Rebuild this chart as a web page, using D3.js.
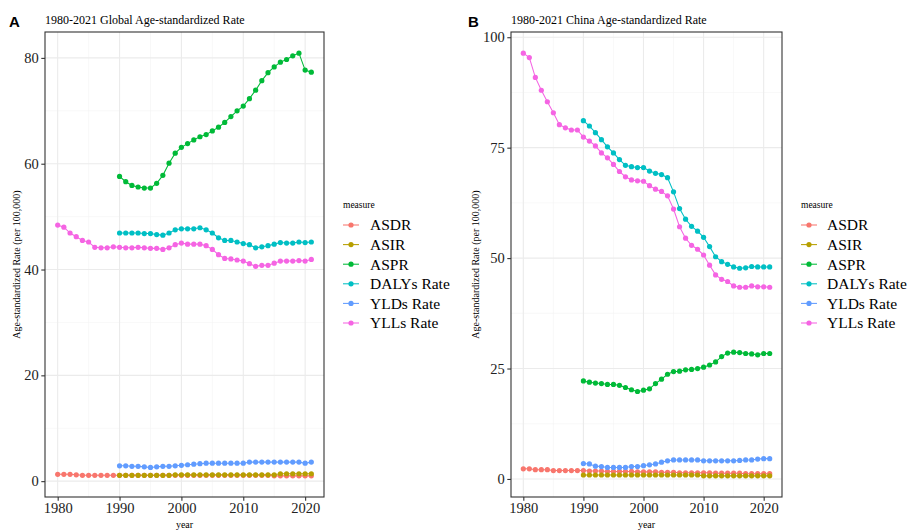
<!DOCTYPE html>
<html>
<head>
<meta charset="utf-8">
<script src="https://cdn.jsdelivr.net/npm/d3@7"></script>
<style>
  html, body { margin: 0; padding: 0; background: #fff; }
  svg { display: block; }
</style>
</head>
<body>
<svg id="chart" width="909" height="530"></svg>
<script>
// Age-standardized rates, 1980-2021 (per 100,000)
const measures = ["ASDR", "ASIR", "ASPR", "DALYs Rate", "YLDs Rate", "YLLs Rate"];
const measureColors = ["#F8766D", "#B79F00", "#00BA38", "#00BFC4", "#619CFF", "#F564E3"];

const yearsFrom1980 = d3.range(1980, 2022);
const yearsFrom1990 = d3.range(1990, 2022);

const xTicks = [1980, 1990, 2000, 2010, 2020];
const xMinor = [1985, 1995, 2005, 2015];

// Global
const globalASDR = [1.3,1.3,1.3,1.2,1.1,1.1,1.1,1.1,1.1,1.1, 1.1,1.1,1.1,1.1,1.1,1.1,1.1,1.1,1.1,1.1,
  1.1,1.1,1.1,1.1,1.1,1.1,1.1,1.1,1.1,1.1, 1.1,1.1,1.1,1.1,1.1,1.0,1.0,1.0,1.0,1.0, 1.0,1.0];
const globalASIR = [1.1,1.1,1.1,1.1,1.1,1.1,1.1,1.1,1.1,1.2, 1.2,1.2,1.2,1.2,1.2,1.2,1.2,1.2,1.2,1.2,
  1.2,1.2,1.2,1.2,1.2,1.2,1.4,1.4,1.4,1.4, 1.4,1.4];
const globalASPR = [57.6,56.6,55.9,55.6,55.4,55.4,56.3,57.8,60.1,62.0, 63.1,63.8,64.5,65.1,65.5,66.2,66.9,67.8,68.9,70.0,
  70.9,72.3,73.9,75.7,77.2,78.3,79.2,79.7,80.4,80.9, 77.7,77.3];
const globalDALYs = [46.9,46.9,46.9,46.9,46.8,46.8,46.6,46.5,46.9,47.5, 47.7,47.7,47.7,47.9,47.5,46.9,46.0,45.5,45.5,45.2,
  44.9,44.7,44.1,44.3,44.5,44.8,45.1,45.0,45.0,45.2, 45.1,45.2];
const globalYLDs = [2.9,2.9,2.8,2.8,2.7,2.6,2.7,2.8,2.8,2.9, 3.0,3.1,3.2,3.3,3.4,3.4,3.4,3.4,3.4,3.4,
  3.4,3.6,3.6,3.6,3.6,3.6,3.6,3.6,3.6,3.6, 3.4,3.6];
const globalYLLs = [48.4,48.0,46.9,46.2,45.5,45.2,44.2,44.1,44.1,44.3, 44.2,44.1,44.1,44.2,44.1,44.0,44.0,43.8,44.1,44.7,
  45.0,44.8,44.8,44.8,44.5,43.8,42.8,42.1,42.0,41.8, 41.6,41.1,40.6,40.8,40.8,41.2,41.6,41.6,41.6,41.7, 41.6,41.9];
const globalYTicks = [0, 20, 40, 60, 80];
const globalYMinor = [10, 30, 50, 70];

// China
const chinaASDR = [2.3,2.3,2.1,2.1,2.1,1.9,1.9,1.9,1.9,1.9, 1.9,1.8,1.8,1.8,1.7,1.7,1.7,1.7,1.7,1.6,
  1.6,1.6,1.6,1.5,1.5,1.5,1.4,1.4,1.4,1.4, 1.4,1.4,1.3,1.3,1.3,1.3,1.3,1.2,1.2,1.2, 1.2,1.2];
const chinaASIR = [0.9,0.9,0.9,0.9,0.9,0.9,0.9,0.9,0.9,0.9, 0.9,0.9,0.9,0.9,0.9,0.9,0.9,0.9,0.9,0.9,
  0.7,0.7,0.7,0.7,0.7,0.7,0.7,0.7,0.7,0.7, 0.7,0.7];
const chinaASPR = [22.2,21.9,21.7,21.6,21.4,21.4,21.2,20.7,20.2,19.8, 20.1,20.4,21.6,22.6,23.7,24.3,24.4,24.7,24.8,25.0,
  25.3,25.8,26.5,27.7,28.5,28.7,28.6,28.4,28.3,28.1, 28.4,28.4];
const chinaDALYs = [81.1,79.9,78.4,76.8,75.2,73.8,72.3,71.0,70.7,70.5, 70.5,69.7,69.2,68.9,68.2,65.0,61.2,58.8,57.2,56.1,
  54.7,52.6,50.3,49.2,48.6,48.0,47.7,47.8,48.1,48.0, 48.0,48.0];
const chinaYLDs = [3.5,3.4,2.9,2.8,2.6,2.6,2.6,2.6,2.8,2.8, 3.0,3.2,3.4,3.8,4.1,4.3,4.3,4.3,4.3,4.3,
  4.1,4.1,4.1,4.1,4.1,4.1,4.2,4.3,4.3,4.5, 4.6,4.6];
const chinaYLLs = [96.4,95.4,90.9,88.0,85.4,82.9,80.2,79.5,79.0,79.0, 77.4,76.5,75.4,73.8,72.7,71.2,69.6,68.4,67.7,67.5,
  67.4,66.4,65.6,65.1,64.1,61.1,57.1,54.5,52.9,52.0, 50.7,48.4,46.2,45.2,44.7,43.7,43.4,43.4,43.7,43.5, 43.5,43.4];
const chinaYTicks = [0, 25, 50, 75, 100];
const chinaYMinor = [12.5, 37.5, 62.5, 87.5];

function buildSeries(cols) {
  return measures.map((m, i) => {
    const years = cols[i].length === yearsFrom1980.length ? yearsFrom1980 : yearsFrom1990;
    return { measure: m, color: measureColors[i], points: cols[i].map((v, j) => ({ year: years[j], value: v })) };
  });
}

const panels = [
  {
    tag: "A", title: "1980-2021 Global Age-standardized Rate",
    series: buildSeries([globalASDR, globalASIR, globalASPR, globalDALYs, globalYLDs, globalYLLs]),
    yTicks: globalYTicks, yMinor: globalYMinor,
    box: { left: 45, right: 324, top: 32, bottom: 497 },
    tagX: 9, yTitleX: 16,
    legend: { x: 343, keyW: 16, textX: 370 }
  },
  {
    tag: "B", title: "1980-2021 China Age-standardized Rate",
    series: buildSeries([chinaASDR, chinaASIR, chinaASPR, chinaDALYs, chinaYLDs, chinaYLLs]),
    yTicks: chinaYTicks, yMinor: chinaYMinor,
    box: { left: 511, right: 782, top: 32, bottom: 497 },
    tagX: 468, yTitleX: 475,
    legend: { x: 801, keyW: 16, textX: 827 }
  }
];

const svg = d3.select("#chart");
svg.append("rect").attr("width", 909).attr("height", 530).attr("fill", "#fff");

const serif = "'Liberation Serif', 'Times New Roman', serif";
const sans = "'Liberation Sans', Arial, sans-serif";

function expanded(extent) {
  const pad = (extent[1] - extent[0]) * 0.05;
  return [extent[0] - pad, extent[1] + pad];
}

panels.forEach(p => {
  const b = p.box;
  const allPts = p.series.flatMap(s => s.points);
  const x = d3.scaleLinear().domain(expanded(d3.extent(allPts, d => d.year))).range([b.left, b.right]);
  const y = d3.scaleLinear().domain(expanded(d3.extent(allPts, d => d.value))).range([b.bottom, b.top]);

  const g = svg.append("g");

  // grid
  const grid = g.append("g");
  grid.selectAll(".xmin").data(xMinor).join("line")
    .attr("x1", d => x(d)).attr("x2", d => x(d)).attr("y1", b.top).attr("y2", b.bottom)
    .attr("stroke", "#F2F2F2").attr("stroke-width", 0.55);
  grid.selectAll(".ymin").data(p.yMinor).join("line")
    .attr("y1", d => y(d)).attr("y2", d => y(d)).attr("x1", b.left).attr("x2", b.right)
    .attr("stroke", "#F2F2F2").attr("stroke-width", 0.55);
  grid.selectAll(".xmaj").data(xTicks).join("line")
    .attr("x1", d => x(d)).attr("x2", d => x(d)).attr("y1", b.top).attr("y2", b.bottom)
    .attr("stroke", "#EBEBEB").attr("stroke-width", 1.1);
  grid.selectAll(".ymaj").data(p.yTicks).join("line")
    .attr("y1", d => y(d)).attr("y2", d => y(d)).attr("x1", b.left).attr("x2", b.right)
    .attr("stroke", "#EBEBEB").attr("stroke-width", 1.1);

  // series lines then points
  const line = d3.line().x(d => x(d.year)).y(d => y(d.value));
  g.append("g").selectAll("path").data(p.series).join("path")
    .attr("d", s => line(s.points)).attr("fill", "none")
    .attr("stroke", s => s.color).attr("stroke-width", 1.05);
  p.series.forEach(s => {
    g.append("g").selectAll("circle").data(s.points).join("circle")
      .attr("cx", d => x(d.year)).attr("cy", d => y(d.value)).attr("r", 2.6)
      .attr("fill", s.color);
  });

  // panel border
  g.append("rect").attr("x", b.left).attr("y", b.top)
    .attr("width", b.right - b.left).attr("height", b.bottom - b.top)
    .attr("fill", "none").attr("stroke", "#333").attr("stroke-width", 1.1);

  // axes
  const xAxis = g.append("g").attr("transform", `translate(0,${b.bottom})`)
    .call(d3.axisBottom(x).tickValues(xTicks).tickFormat(d3.format("d")).tickSize(3.7).tickPadding(2.5));
  const yAxis = g.append("g").attr("transform", `translate(${b.left},0)`)
    .call(d3.axisLeft(y).tickValues(p.yTicks).tickFormat(d3.format("d")).tickSize(3.7).tickPadding(2.5));
  [xAxis, yAxis].forEach(a => {
    a.select(".domain").remove();
    a.selectAll(".tick line").attr("stroke", "#333").attr("stroke-width", 1.1);
    a.selectAll(".tick text").attr("fill", "#222").style("font-family", serif).style("font-size", "14.5px");
  });

  // titles
  g.append("text").attr("x", p.tagX).attr("y", 27)
    .style("font-family", sans).style("font-weight", "bold").style("font-size", "15px")
    .text(p.tag);
  g.append("text").attr("x", b.left).attr("y", 24)
    .style("font-family", serif).style("font-size", "12px").text(p.title);
  g.append("text").attr("x", (b.left + b.right) / 2).attr("y", 528)
    .attr("text-anchor", "middle").style("font-family", serif).style("font-size", "10px").text("year");
  g.append("text").attr("transform", `translate(${p.yTitleX},${(b.top + b.bottom) / 2}) rotate(-90)`)
    .attr("text-anchor", "middle").attr("dy", "0.35em")
    .style("font-family", serif).style("font-size", "10px").text("Age-standardized Rate (per 100,000)");

  // legend
  const L = p.legend;
  const lg = g.append("g");
  lg.append("text").attr("x", L.x).attr("y", 208)
    .style("font-family", serif).style("font-size", "9.5px").text("measure");
  p.series.forEach((s, i) => {
    const cy = 225 + i * 19.6;
    lg.append("line").attr("x1", L.x).attr("x2", L.x + L.keyW).attr("y1", cy).attr("y2", cy)
      .attr("stroke", s.color).attr("stroke-width", 1.05);
    lg.append("circle").attr("cx", L.x + L.keyW / 2).attr("cy", cy).attr("r", 2.6).attr("fill", s.color);
    lg.append("text").attr("x", L.textX).attr("y", cy).attr("dy", "0.35em")
      .style("font-family", serif).style("font-size", "15.5px").text(s.measure);
  });
});
</script>
</body>
</html>
